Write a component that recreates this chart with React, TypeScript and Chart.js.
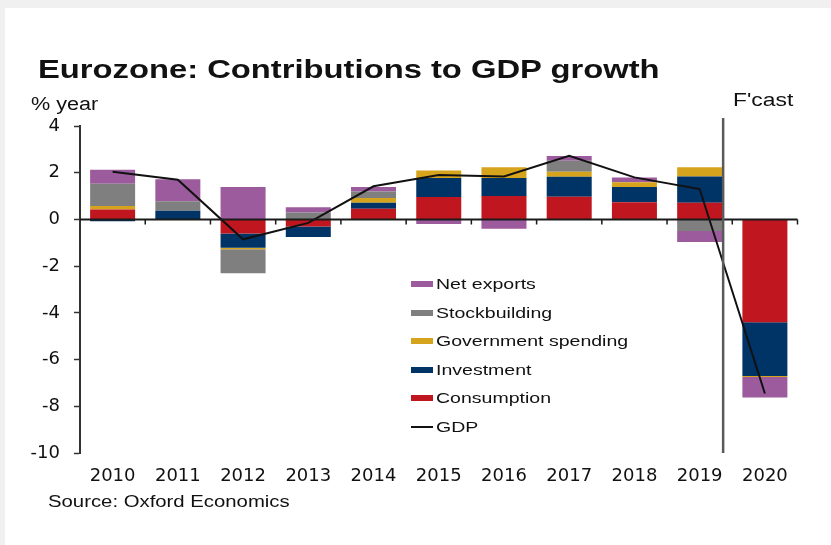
import React, { useEffect, useRef } from 'react';
import { Chart, registerables } from 'chart.js';

Chart.register(...registerables);

// ---- data ----
const years = ['2010', '2011', '2012', '2013', '2014', '2015', '2016', '2017', '2018', '2019', '2020'];
const consumption = [0.43, 0, -0.6, -0.3, 0.46, 0.96, 1.0, 0.97, 0.74, 0.71, -4.4];
const investment = [-0.08, 0.37, -0.61, -0.45, 0.25, 0.81, 0.77, 0.86, 0.65, 1.13, -2.3];
const government = [0.15, 0, -0.07, 0, 0.21, 0.33, 0.46, 0.21, 0.2, 0.39, -0.05];
const stockbuilding = [0.95, 0.41, -1.02, 0.3, 0.28, 0, 0, 0.47, 0, -0.5, 0];
const netExports = [0.6, 0.94, 1.39, 0.22, 0.19, -0.2, -0.4, 0.21, 0.21, -0.47, -0.87];
const gdp = [2.04, 1.7, -0.85, -0.15, 1.42, 1.9, 1.84, 2.72, 1.8, 1.3, -7.45];
const yMin = -10;
const yMax = 4;
const yStep = 2;
const lastActualYear = '2019';

const titleText = 'Eurozone: Contributions to GDP growth';
const unitText = '% year';
const forecastText = "F'cast";
const sourceText = 'Source: Oxford Economics';

const barSeries = [
  { name: 'Consumption', data: consumption, color: '#c0161f' },
  { name: 'Investment', data: investment, color: '#003366' },
  { name: 'Government spending', data: government, color: '#d6a41c' },
  { name: 'Stockbuilding', data: stockbuilding, color: '#7f7f7f' },
  { name: 'Net exports', data: netExports, color: '#9c5b9c' },
];
const lineSeries = { name: 'GDP', data: gdp, color: '#111111' };

const legendOrder = ['Net exports', 'Stockbuilding', 'Government spending', 'Investment', 'Consumption', 'GDP'];

const overlayPlugin = {
  id: 'overlayLines',
  afterDatasetsDraw(chart: any) {
    const { ctx, chartArea, scales } = chart;
    const x = scales.x;
    const y = scales.y;
    const y0 = y.getPixelForValue(0);
    ctx.save();
    // zero axis line
    ctx.strokeStyle = '#1a1a1a';
    ctx.lineWidth = 2;
    ctx.beginPath();
    ctx.moveTo(chartArea.left, y0);
    ctx.lineTo(chartArea.right, y0);
    ctx.stroke();
    // category boundary ticks
    ctx.lineWidth = 1.5;
    ctx.beginPath();
    for (let i = 1; i <= years.length; i++) {
      const bx = i < years.length
        ? (x.getPixelForValue(i - 1) + x.getPixelForValue(i)) / 2
        : chartArea.right;
      ctx.moveTo(bx, y0);
      ctx.lineTo(bx, y0 + 5);
    }
    ctx.stroke();
    // forecast divider
    const i0 = years.indexOf(lastActualYear);
    const xa = x.getPixelForValue(i0);
    const xb = x.getPixelForValue(i0 + 1);
    const fx = xa + 0.36 * (xb - xa);
    ctx.strokeStyle = '#5a5a5a';
    ctx.lineWidth = 2.5;
    ctx.beginPath();
    ctx.moveTo(fx, chartArea.top - 8);
    ctx.lineTo(fx, chartArea.bottom);
    ctx.stroke();
    ctx.restore();
  },
};

const FONT = '"Liberation Sans", Arial, sans-serif';

function Txt(props: { left: number; baseline: number; size: number; scale: number; bold?: boolean; children: any }) {
  const { left, baseline, size, scale, bold, children } = props;
  return (
    <div
      style={{
        position: 'absolute',
        left,
        top: baseline - 0.8465 * size,
        fontFamily: FONT,
        fontSize: size,
        lineHeight: `${size}px`,
        fontWeight: bold ? 'bold' : 'normal',
        color: '#111',
        whiteSpace: 'nowrap',
        transform: `scaleX(${scale})`,
        transformOrigin: 'left top',
      }}
    >
      {children}
    </div>
  );
}

export default function App() {
  const canvasRef = useRef<HTMLCanvasElement | null>(null);

  useEffect(() => {
    document.body.style.margin = '0';
    const canvas = canvasRef.current;
    if (!canvas) return;
    const datasets: any[] = barSeries.map((s) => ({
      type: 'bar',
      label: s.name,
      data: s.data,
      backgroundColor: s.color,
      borderWidth: 0,
      categoryPercentage: 1,
      barPercentage: 0.69,
      stack: 'contrib',
      order: 1,
    }));
    datasets.push({
      type: 'line',
      label: lineSeries.name,
      data: lineSeries.data,
      borderColor: lineSeries.color,
      borderWidth: 2,
      pointRadius: 0,
      tension: 0,
      fill: false,
      order: 0,
    });
    const chart = new Chart(canvas, {
      type: 'bar',
      data: { labels: years, datasets },
      plugins: [overlayPlugin],
      options: {
        animation: false,
        responsive: true,
        maintainAspectRatio: false,
        layout: { padding: { top: 126, right: 33.5, bottom: 0, left: 0 } },
        plugins: {
          legend: { display: false },
          tooltip: { enabled: false },
          title: { display: false },
        },
        scales: {
          x: {
            stacked: true,
            grid: { display: false, drawTicks: false },
            border: { display: false },
            ticks: {
              color: '#111',
              padding: 13,
              font: { family: '"DejaVu Sans", sans-serif', size: 18 },
              maxRotation: 0,
              autoSkip: false,
            },
            afterFit: (s: any) => { s.height = 92; },
          },
          y: {
            stacked: true,
            min: yMin,
            max: yMax,
            grid: {
              display: true,
              drawOnChartArea: false,
              drawTicks: true,
              tickLength: 6,
              tickColor: '#333',
              tickWidth: 1.5,
            },
            border: { display: true, color: '#333', width: 2 },
            ticks: {
              stepSize: yStep,
              color: '#111',
              padding: 14,
              font: { family: '"DejaVu Sans", sans-serif', size: 18 },
            },
            afterFit: (s: any) => { s.width = 80; },
          },
        },
      },
    } as any);
    return () => chart.destroy();
  }, []);

  const colorOf = (name: string) =>
    name === lineSeries.name ? lineSeries.color : (barSeries.find((s) => s.name === name) as any).color;

  return (
    <div style={{ position: 'relative', width: 831, height: 545, background: '#f0f0f0', overflow: 'hidden' }}>
      <div style={{ position: 'absolute', left: 5, top: 8, right: 0, bottom: 0, background: '#ffffff' }} />
      <div style={{ position: 'absolute', left: 0, top: 0, width: 831, height: 545 }}>
        <canvas ref={canvasRef} />
      </div>
      <Txt left={38} baseline={78} size={25} scale={1.31} bold>{titleText}</Txt>
      <Txt left={31} baseline={110} size={18} scale={1.2}>{unitText}</Txt>
      <Txt left={733} baseline={106} size={18} scale={1.27}>{forecastText}</Txt>
      <Txt left={48} baseline={508} size={16} scale={1.27}>{sourceText}</Txt>
      {legendOrder.map((name, i) => {
        const cy = 284 + i * 28.5;
        const isLine = name === lineSeries.name;
        return (
          <React.Fragment key={name}>
            <div
              style={{
                position: 'absolute',
                left: 411,
                top: isLine ? cy - 1 : cy - 3,
                width: 22,
                height: isLine ? 2 : 6,
                background: colorOf(name),
              }}
            />
            <Txt left={436} baseline={cy + 0.358 * 15.5} size={15.5} scale={1.26}>{name}</Txt>
          </React.Fragment>
        );
      })}
    </div>
  );
}
